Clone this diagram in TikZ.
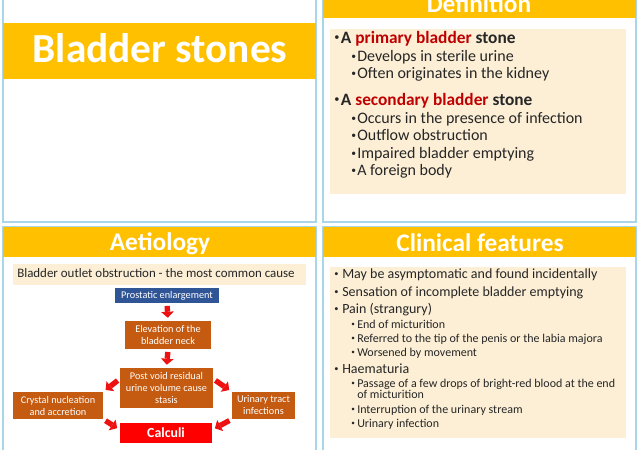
\documentclass[tikz,border=0pt]{standalone}
\usepackage{fontspec}
\setmainfont{Carlito}
\usetikzlibrary{arrows.meta}
\definecolor{band}{HTML}{FFC000}
\definecolor{panelline}{HTML}{A8D5E8}
\definecolor{beige}{HTML}{FCEFD6}
\definecolor{boxbrown}{HTML}{C55A11}
\definecolor{boxblue}{HTML}{2F5597}
\definecolor{dred}{HTML}{C00000}
\definecolor{arrowred}{HTML}{EE1111}
\definecolor{ink}{HTML}{262626}
\tikzset{
  panel/.style={draw=panelline, line width=0.9pt, fill=white},
  bandfill/.style={fill=band},
  softfill/.style={fill=beige},
  titletext/.style={anchor=base, inner sep=0, text=white, font=\bfseries\fontsize{19}{22}\selectfont},
  txt/.style={anchor=base west, inner sep=0, text=ink},
  defmain/.style={txt, font=\bfseries\fontsize{13}{15}\selectfont},
  defsub/.style={txt, font=\fontsize{12}{14}\selectfont},
  climain/.style={txt, font=\fontsize{10.5}{12}\selectfont},
  clisub/.style={txt, font=\fontsize{9}{11}\selectfont},
  flowbox/.style={fill=boxbrown, text=white, align=center, inner sep=0,
    font=\fontsize{7.7}{9}\selectfont},
  fatarrow/.style={draw=arrowred, line width=4pt,
    -{Triangle[width=9.5pt,length=4.5pt,line width=0pt]},
    shorten <=2pt, shorten >=2.25pt},
}
\newcommand{\mybul}[1]{\makebox[#1][l]{\raisebox{0.12em}{\scalebox{0.6}{\mdseries\textbullet}}}}
\begin{document}
\begin{tikzpicture}[x=0.75pt, y=-0.75pt]
\useasboundingbox (0,0) rectangle (640,450);
\fill[white] (0,0) rectangle (640,450);
% panels
\draw[panel] (3,-5) rectangle (316,222);
\draw[panel] (323,-5) rectangle (636,222);
\draw[panel] (3,227) rectangle (316,455);
\draw[panel] (323,227) rectangle (636,455);
% bands
\fill[bandfill] (3,23) rectangle (316,79);
\fill[bandfill] (323,-5) rectangle (636,18);
\fill[bandfill] (3,227) rectangle (316,257);
\fill[bandfill] (323,227) rectangle (636,257);
% soft boxes
\fill[softfill] (330,29) rectangle (626,194);
\fill[softfill] (13,264) rectangle (306,285);
\fill[softfill] (330,267) rectangle (626,438);
% titles
\node[titletext, font=\bfseries\fontsize{31}{36}\selectfont] (t1) at (160,62) {Bladder stones};
\node[titletext] (t2) at (479,12) {Definition};
\node[titletext] (t3) at (160,250) {Aetiology};
\node[titletext] (t4) at (480,251) {Clinical features};
% Definition
\node[defmain] (d1) at (334,43) {\mybul{5pt}A {\color{dred}primary bladder} stone};
\node[defsub] (d2) at (351,61) {\mybul{4.5pt}Develops in sterile urine};
\node[defsub] (d3) at (351,78) {\mybul{4.5pt}Often originates in the kidney};
\node[defmain] (d4) at (334,105) {\mybul{5pt}A {\color{dred}secondary bladder} stone};
\node[defsub] (d5) at (351,123) {\mybul{4.5pt}Occurs in the presence of infection};
\node[defsub] (d6) at (351,140) {\mybul{4.5pt}Outflow obstruction};
\node[defsub] (d7) at (351,158) {\mybul{4.5pt}Impaired bladder emptying};
\node[defsub] (d8) at (351,175) {\mybul{4.5pt}A foreign body};
% Aetiology
\node[txt, font=\fontsize{9.7}{12}\selectfont] (a0) at (17,277) {Bladder outlet obstruction - the most common cause};
\node[flowbox, fill=boxblue, minimum width=78pt, minimum height=11.25pt] (pros) at (167,295.5) {Prostatic enlargement};
\node[flowbox, minimum width=64.5pt, minimum height=21pt] (elev) at (168,335) {Elevation of the\\bladder neck};
\node[flowbox, minimum width=69.75pt, minimum height=30pt] (post) at (166.5,388) {Post void residual\\urine volume cause\\stasis};
\node[flowbox, minimum width=67.5pt, minimum height=20.25pt] (crys) at (58,405.5) {Crystal nucleation\\and accretion};
\node[flowbox, minimum width=47.25pt, minimum height=20.25pt] (urin) at (263.5,405.5) {Urinary tract\\infections};
\node[flowbox, fill=red, minimum width=69pt, minimum height=15pt, font=\bfseries\fontsize{10.4}{12}\selectfont] (calc) at (166,433) {Calculi};
\draw[fatarrow] (pros.south) -- (elev.north);
\draw[fatarrow] (elev.south) -- (post.north);
\draw[fatarrow] (post.169) -- (crys.north east);
\draw[fatarrow] (post.11) -- (urin.north west);
\draw[fatarrow] (crys.south east) -- (calc.176);
\draw[fatarrow] (urin.south west) -- (calc.4);
% Clinical features
\node[climain] (c1) at (334,278) {\mybul{6pt}May be asymptomatic and found incidentally};
\node[climain] (c2) at (334,296) {\mybul{6pt}Sensation of incomplete bladder emptying};
\node[climain] (c3) at (334,313) {\mybul{6pt}Pain (strangury)};
\node[clisub] (c4) at (351,328) {\mybul{4.5pt}End of micturition};
\node[clisub] (c5) at (351,342) {\mybul{4.5pt}Referred to the tip of the penis or the labia majora};
\node[clisub] (c6) at (351,356) {\mybul{4.5pt}Worsened by movement};
\node[climain] (c7) at (334,373) {\mybul{6pt}Haematuria};
\node[clisub] (c8) at (351,387) {\mybul{4.5pt}Passage of a few drops of bright-red blood at the end};
\node[clisub] (c9) at (357,398) {of micturition};
\node[clisub] (c10) at (351,413) {\mybul{4.5pt}Interruption of the urinary stream};
\node[clisub] (c11) at (351,427) {\mybul{4.5pt}Urinary infection};
\end{tikzpicture}
\end{document}
